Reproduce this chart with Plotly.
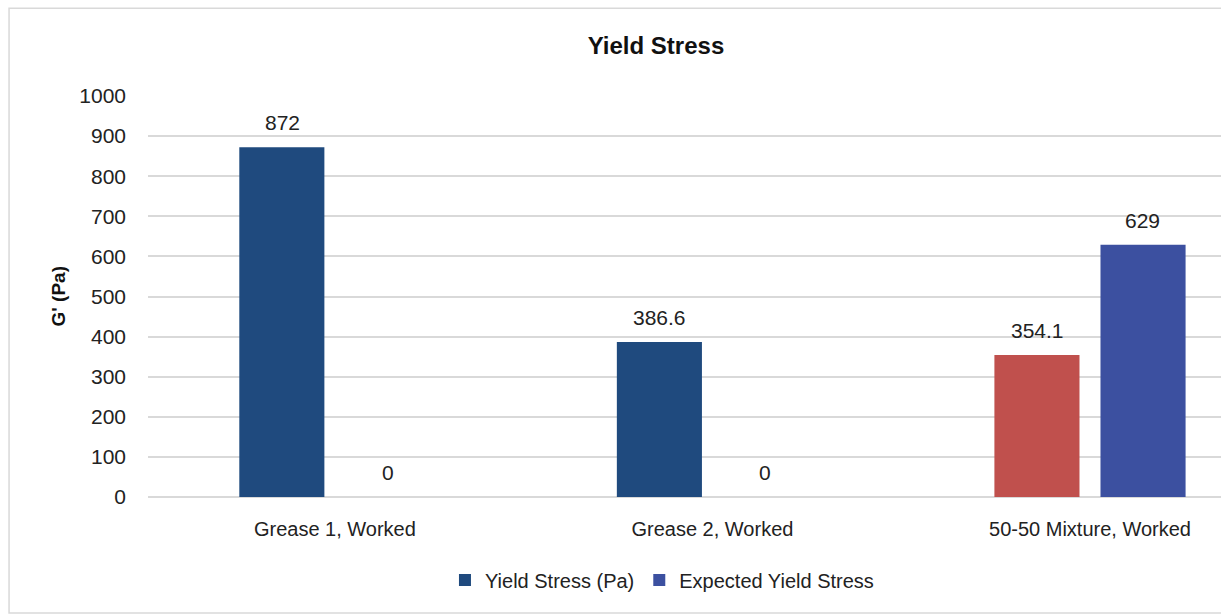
import plotly.graph_objects as go

categories = ["Grease 1, Worked", "Grease 2, Worked", "50-50 Mixture, Worked"]
yield_stress = [872, 386.6, 354.1]
expected_yield = [0, 0, 629]
yield_labels = ["872", "386.6", "354.1"]
expected_labels = ["0", "0", "629"]
y_ticks = [0, 100, 200, 300, 400, 500, 600, 700, 800, 900, 1000]

FONT = "Liberation Sans Narrow, Arial Narrow, Liberation Sans, Arial, sans-serif"
c_dark = "#1F4A7E"
c_red = "#C0504D"
c_blue = "#3C50A0"

fig = go.Figure()
fig.add_trace(go.Bar(
    x=categories, y=yield_stress, name="Yield Stress (Pa)",
    marker=dict(color=[c_dark, c_dark, c_red], line=dict(width=0)),
))
fig.add_trace(go.Bar(
    x=categories, y=expected_yield, name="Expected Yield Stress",
    marker=dict(color=c_blue, line=dict(width=0)),
))

off = 0.14
for i, (v, t) in enumerate(zip(yield_stress, yield_labels)):
    fig.add_annotation(x=i - off, y=v, text=t, showarrow=False, yanchor="bottom",
                       yshift=11, font=dict(family=FONT, size=21, color="#222"))
for i, (v, t) in enumerate(zip(expected_yield, expected_labels)):
    fig.add_annotation(x=i + off, y=v, text=t, showarrow=False, yanchor="bottom",
                       yshift=11, font=dict(family=FONT, size=21, color="#222"))

fig.add_annotation(x=(58 - 148) / 1073, y=0.5, xref="paper", yref="paper", text="<b>G' (Pa)</b>",
                   textangle=-90, showarrow=False, xanchor="center", yanchor="middle",
                   font=dict(family=FONT, size=19, color="#111"))

fig.add_shape(type="rect", xref="paper", yref="paper", x0=-0.1295, x1=1.05, y0=-0.289, y1=1.219,
              line=dict(color="#D9D9D9", width=1.5), fillcolor="rgba(0,0,0,0)", layer="below")

fig.update_layout(
    width=1221, height=616,
    margin=dict(l=148, r=0, t=96, b=119),
    paper_bgcolor="white", plot_bgcolor="white",
    barmode="group", bargap=0.438, bargroupgap=0.198,
    font=dict(family=FONT, size=20, color="#222"),
    title=dict(text="<b>Yield Stress</b>", x=656 / 1221, xanchor="center", y=1 - 46 / 616,
               yanchor="middle", font=dict(family=FONT, size=24, color="#111")),
    xaxis=dict(type="category", range=[-0.495, 2.347], showgrid=False, showline=False,
               ticks="", ticklabelstandoff=18, tickfont=dict(size=20, family=FONT, color="#222")),
    yaxis=dict(range=[0, 1000], tickvals=y_ticks, showgrid=True, gridcolor="#D9D9D9", gridwidth=1.5,
               zeroline=True, zerolinecolor="#D9D9D9", zerolinewidth=1.5, showline=False,
               ticklabelstandoff=21, tickfont=dict(size=21, family=FONT, color="#222")),
    legend=dict(orientation="h", x=0.479, xanchor="center", y=-0.207, yanchor="middle",
                font=dict(size=20, family=FONT, color="#222"), traceorder="normal",
                itemwidth=30, tracegroupgap=0),
    showlegend=True,
)

fig.write_html("out.html")
